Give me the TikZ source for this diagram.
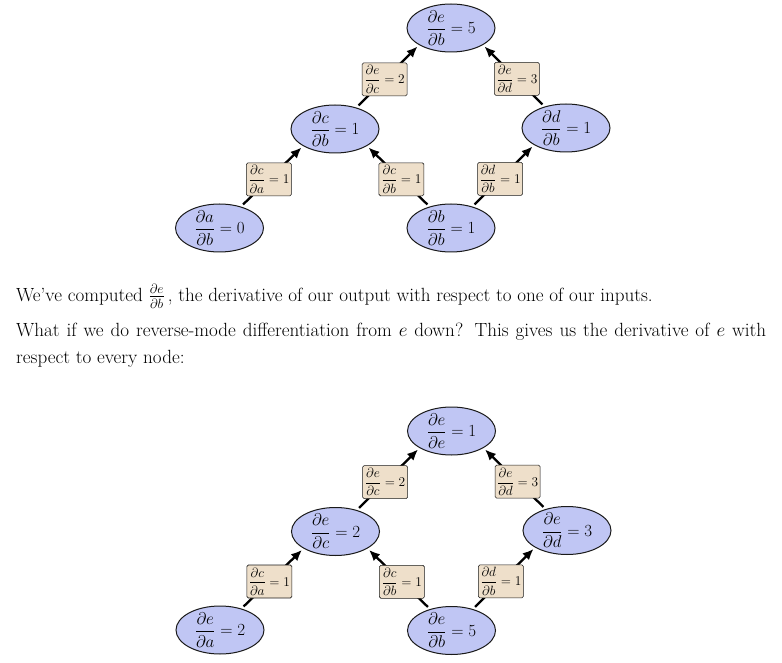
\RequirePackage{fix-cm}
\documentclass[tikz,border=0pt]{standalone}
\usepackage{amsmath}
\usetikzlibrary{shapes.geometric,arrows.meta}
\definecolor{nodeblue}{HTML}{C0C6F4}
\definecolor{edgetan}{HTML}{EEDFCA}
\definecolor{inkline}{HTML}{1A1A1A}
\tikzset{
  var/.style={ellipse, draw=inkline, line width=1pt, fill=nodeblue,
    minimum width=88pt, minimum height=48pt, inner sep=0pt},
  vartext/.style={font=\fontsize{17}{20}\selectfont, inner sep=0pt},
  lbl/.style={draw=inkline, line width=0.6pt, fill=edgetan, rounded corners=1.5pt,
    minimum width=45pt, minimum height=33pt, inner sep=1pt,
    font=\fontsize{13.4}{15}\selectfont, pos=0.45},
  arr/.style={-{Latex[length=11pt,width=9.5pt]}, line width=2.3pt,
    shorten <=3pt, shorten >=2pt},
  body/.style={anchor=base west, inner sep=0pt, font=\fontsize{19.1}{23}\selectfont}
}
\begin{document}
\begin{tikzpicture}[x=1pt,y=-1pt]
\useasboundingbox (0,0) rectangle (782,663);

% ---------- top graph ----------
\node[var, label={[vartext]center:{$\displaystyle\frac{\partial e}{\partial b}=5$}}] (e1) at (451,28) {};
\node[var, label={[vartext]center:{$\displaystyle\frac{\partial c}{\partial b}=1$}}] (c1) at (335,129) {};
\node[var, label={[vartext]center:{$\displaystyle\frac{\partial d}{\partial b}=1$}}] (d1) at (566,128) {};
\node[var, label={[vartext]center:{$\displaystyle\frac{\partial a}{\partial b}=0$}}] (a1) at (219.5,228) {};
\node[var, label={[vartext]center:{$\displaystyle\frac{\partial b}{\partial b}=1$}}] (b1) at (451,228) {};

\draw[arr] (c1.45) -- node[lbl] (ce1) {$\displaystyle\frac{\partial e}{\partial c}=2$} (e1.208);
\draw[arr] (d1.135) -- node[lbl] (de1) {$\displaystyle\frac{\partial e}{\partial d}=3$} (e1.332);
\draw[arr] (a1.45) -- node[lbl] (ac1) {$\displaystyle\frac{\partial c}{\partial a}=1$} (c1.208);
\draw[arr] (b1.135) -- node[lbl] (bc1) {$\displaystyle\frac{\partial c}{\partial b}=1$} (c1.332);
\draw[arr] (b1.45) -- node[lbl] (bd1) {$\displaystyle\frac{\partial d}{\partial b}=1$} (d1.208);

% ---------- text ----------
\node[body] (t1) at (16,301.5) {We've computed $\frac{\partial e}{\partial b}$\,, the derivative of our output with respect to one of our inputs.};
\node[body] (t2) at (16,336) {\makebox[750pt][s]{What if we do reverse-mode differentiation from $e$ down? This gives us the derivative of $e$ with}};
\node[body] (t3) at (16,363) {respect to every node:};

% ---------- bottom graph ----------
\node[var, label={[vartext]center:{$\displaystyle\frac{\partial e}{\partial e}=1$}}] (e2) at (451.5,431) {};
\node[var, label={[vartext]center:{$\displaystyle\frac{\partial e}{\partial c}=2$}}] (c2) at (335.5,531.5) {};
\node[var, label={[vartext]center:{$\displaystyle\frac{\partial e}{\partial d}=3$}}] (d2) at (567,530.5) {};
\node[var, label={[vartext]center:{$\displaystyle\frac{\partial e}{\partial a}=2$}}] (a2) at (220,630) {};
\node[var, label={[vartext]center:{$\displaystyle\frac{\partial e}{\partial b}=5$}}] (b2) at (451.5,630.5) {};

\draw[arr] (c2.45) -- node[lbl] (ce2) {$\displaystyle\frac{\partial e}{\partial c}=2$} (e2.208);
\draw[arr] (d2.135) -- node[lbl] (de2) {$\displaystyle\frac{\partial e}{\partial d}=3$} (e2.332);
\draw[arr] (a2.45) -- node[lbl] (ac2) {$\displaystyle\frac{\partial c}{\partial a}=1$} (c2.208);
\draw[arr] (b2.135) -- node[lbl] (bc2) {$\displaystyle\frac{\partial c}{\partial b}=1$} (c2.332);
\draw[arr] (b2.45) -- node[lbl] (bd2) {$\displaystyle\frac{\partial d}{\partial b}=1$} (d2.208);
\end{tikzpicture}
\end{document}
